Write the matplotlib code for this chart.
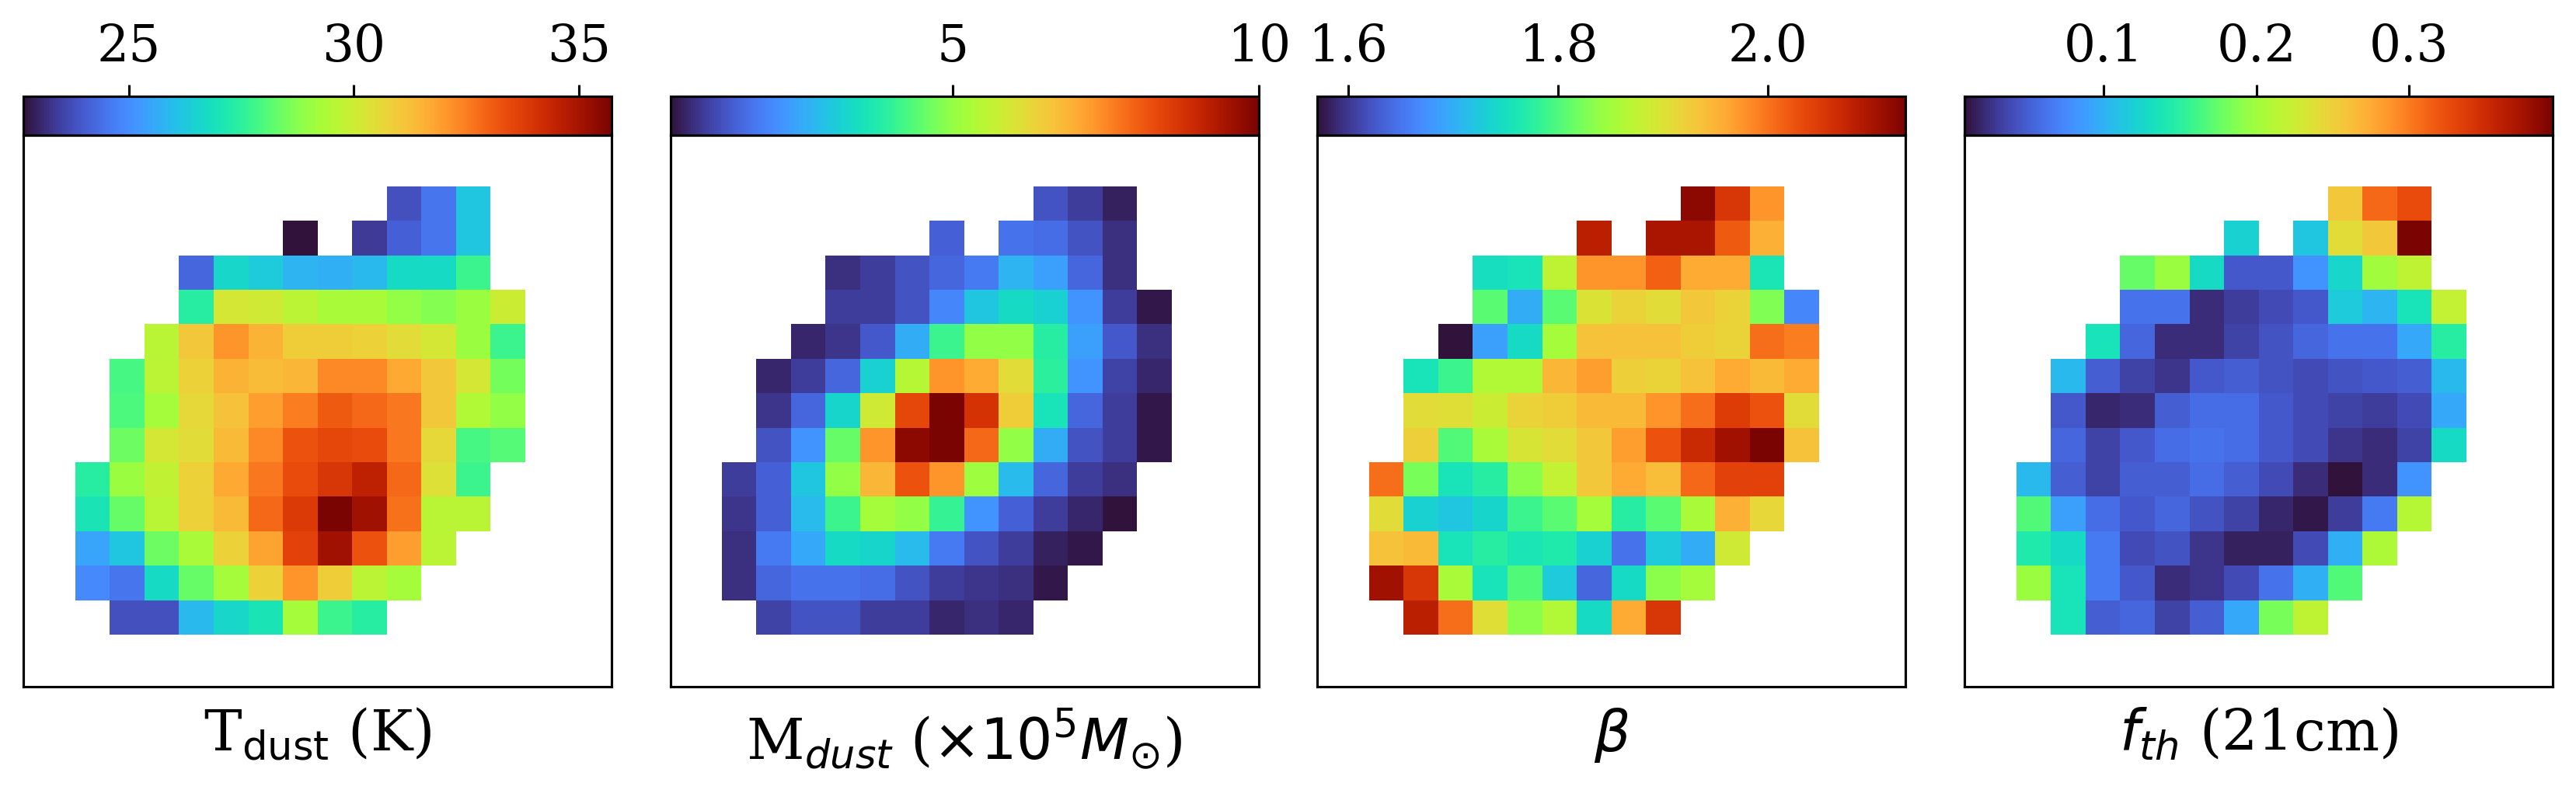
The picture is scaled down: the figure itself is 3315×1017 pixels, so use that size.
"""Dust property maps with colorbars on top."""
import numpy as np
import matplotlib
matplotlib.use('Agg')
import matplotlib.pyplot as plt

n = np.nan

t_dust = [
    [n, n, n, n, n, n, n, n, n, 23.8, 24.5, 26.2, n],
    [n, n, n, n, n, n, 22.65, n, 23.4, 24.1, 24.5, 26.2, n],
    [n, n, n, 24.2, 26.6, 26.3, 25.8, 25.7, 25.9, 26.7, 26.7, 27.75, n],
    [n, n, n, 27.4, 30.2, 30.1, 29.7, 29.3, 29.3, 28.9, 28.7, 29.05, 30.0],
    [n, n, 29.6, 31.0, 32.1, 31.5, 30.9, 30.9, 30.8, 30.5, 30.2, 29.05, 27.75],
    [n, 27.9, 29.7, 30.8, 31.5, 31.3, 31.4, 32.3, 32.3, 31.7, 31.0, 30.2, 28.5],
    [n, 28.0, 29.2, 30.6, 31.15, 31.9, 32.5, 33.1, 32.85, 32.6, 31.0, 29.45, 28.9],
    [n, 28.4, 30.2, 30.5, 31.35, 32.3, 33.25, 33.5, 33.4, 32.6, 30.6, 27.9, 28.1],
    [27.4, 29.05, 29.8, 30.8, 31.7, 32.6, 33.4, 33.9, 34.55, 32.85, 30.4, 27.75, n],
    [27.0, 28.3, 29.6, 30.8, 31.35, 32.85, 33.8, 35.73, 35.1, 32.7, 29.6, 29.6, n],
    [25.5, 26.2, 28.4, 29.3, 30.8, 31.8, 33.6, 35.1, 33.25, 31.9, 29.7, n, n],
    [24.9, 24.5, 26.7, 28.3, 29.2, 30.8, 32.1, 30.9, 29.7, 29.2, n, n, n],
    [n, 23.8, 23.8, 25.9, 26.6, 27.0, 29.2, 27.75, 27.4, n, n, n, n],
]

m_dust = [
    [n, n, n, n, n, n, n, n, n, 1.25, 0.96, 0.57, n],
    [n, n, n, n, n, n, 1.44, n, 1.73, 1.63, 1.25, 0.76, n],
    [n, n, n, 0.76, 0.96, 1.25, 1.53, 1.82, 2.69, 2.40, 1.53, 0.76, n],
    [n, n, n, 0.96, 0.96, 1.25, 2.02, 2.98, 3.36, 3.17, 2.21, 0.96, 0.48],
    [n, n, 0.67, 0.86, 1.34, 2.59, 4.13, 5.0, 5.0, 3.84, 2.40, 1.34, 0.76],
    [n, 0.67, 0.96, 1.53, 3.17, 5.48, 7.31, 7.02, 6.15, 3.94, 2.21, 1.05, 0.67],
    [n, 0.86, 1.53, 3.27, 5.86, 8.36, 10.0, 8.75, 6.44, 3.55, 1.53, 0.96, 0.48],
    [n, 1.25, 2.21, 4.52, 7.31, 9.81, 10.0, 7.88, 5.0, 2.59, 1.25, 0.96, 0.48],
    [0.96, 1.44, 2.98, 5.0, 6.82, 8.17, 7.31, 5.14, 2.79, 1.53, 0.96, 0.76, n],
    [0.86, 1.44, 2.79, 4.13, 5.19, 5.0, 4.04, 2.21, 1.44, 0.96, 0.67, 0.38, n],
    [0.76, 1.82, 2.50, 3.36, 3.27, 2.79, 1.82, 1.25, 0.96, 0.57, 0.48, n, n],
    [0.76, 1.53, 1.73, 1.73, 1.63, 1.25, 0.96, 0.86, 0.76, 0.48, n, n, n],
    [n, 1.05, 1.25, 1.25, 0.96, 0.96, 0.67, 0.76, 0.67, n, n, n, n],
]

beta = [
    [n, n, n, n, n, n, n, n, n, 2.120, 2.053, 1.974, n],
    [n, n, n, n, n, n, 2.081, n, 2.097, 2.097, 2.019, 1.952, n],
    [n, n, n, 1.750, 1.756, 1.873, 1.974, 1.974, 2.013, 1.957, 1.957, 1.761, n],
    [n, n, n, 1.806, 1.700, 1.806, 1.901, 1.918, 1.907, 1.929, 1.918, 1.829, 1.666],
    [n, n, 1.571, 1.689, 1.745, 1.851, 1.935, 1.935, 1.935, 1.924, 1.918, 2.002, 1.991],
    [n, 1.756, 1.789, 1.862, 1.862, 1.946, 1.969, 1.921, 1.918, 1.935, 1.957, 1.943, 1.957],
    [n, 1.907, 1.904, 1.885, 1.918, 1.924, 1.943, 1.943, 1.974, 2.002, 2.047, 2.025, 1.907],
    [n, 1.921, 1.801, 1.857, 1.896, 1.907, 1.929, 1.969, 2.025, 2.069, 2.103, 2.131, 1.935],
    [2.002, 1.823, 1.756, 1.773, 1.834, 1.879, 1.929, 1.957, 1.940, 2.008, 2.041, 2.041, n],
    [1.907, 1.733, 1.722, 1.739, 1.789, 1.806, 1.851, 1.773, 1.806, 1.857, 1.952, 1.913, n],
    [1.935, 1.943, 1.756, 1.773, 1.761, 1.767, 1.733, 1.649, 1.728, 1.700, 1.890, n, n],
    [2.103, 2.053, 1.857, 1.756, 1.801, 1.728, 1.638, 1.745, 1.834, 1.851, n, n, n],
    [n, 2.081, 2.002, 1.904, 1.834, 1.862, 1.745, 1.957, 2.053, n, n, n, n],
]

f_th = [
    [n, n, n, n, n, n, n, n, n, 0.255, 0.309, 0.325, n],
    [n, n, n, n, n, n, 0.121, n, 0.113, 0.240, 0.255, 0.394, n],
    [n, n, n, 0.175, 0.198, 0.128, 0.048, 0.048, 0.082, 0.125, 0.200, 0.217, n],
    [n, n, n, 0.063, 0.063, 0.024, 0.032, 0.040, 0.048, 0.117, 0.101, 0.136, 0.221],
    [n, n, 0.136, 0.055, 0.024, 0.024, 0.036, 0.044, 0.055, 0.063, 0.063, 0.094, 0.148],
    [n, 0.105, 0.051, 0.036, 0.028, 0.048, 0.051, 0.044, 0.040, 0.044, 0.048, 0.051, 0.105],
    [n, 0.048, 0.021, 0.024, 0.051, 0.059, 0.059, 0.048, 0.040, 0.036, 0.032, 0.040, 0.094],
    [n, 0.055, 0.036, 0.048, 0.059, 0.063, 0.059, 0.048, 0.040, 0.028, 0.024, 0.036, 0.128],
    [0.105, 0.051, 0.036, 0.051, 0.051, 0.059, 0.051, 0.040, 0.024, 0.009, 0.024, 0.082, n],
    [0.167, 0.090, 0.059, 0.048, 0.055, 0.044, 0.036, 0.021, 0.013, 0.032, 0.067, 0.213, n],
    [0.144, 0.128, 0.067, 0.040, 0.044, 0.028, 0.017, 0.017, 0.040, 0.098, 0.209, n, n],
    [0.198, 0.136, 0.067, 0.048, 0.024, 0.028, 0.040, 0.063, 0.098, 0.167, n, n, n],
    [n, 0.136, 0.051, 0.055, 0.036, 0.051, 0.094, 0.182, 0.217, n, n, n, n],
]

maps = [t_dust, m_dust, beta, f_th]
labels = ['T$_{\\rm dust}$ (K)', 'M$_{dust}$ ($\\times 10^5 M_{\\odot}$)',
          '$\\beta$', '$f_{th}$ (21cm)']
cbar_ticks = [[25, 30, 35], [5, 10], [1.6, 1.8, 2.0], [0.1, 0.2, 0.3]]
cbar_labels = [['25', '30', '35'], ['5', '10'], ['1.6', '1.8', '2.0'], ['0.1', '0.2', '0.3']]

W, H = 3315, 1017
plt.rcParams['font.family'] = 'DejaVu Serif'
fig = plt.figure(figsize=(W / 150, H / 150), dpi=150)

for i in range(4):
    left = 30 + i * 832.7
    ax = fig.add_axes([left / W, 1 - 884 / H, 757 / W, 710 / H])
    cax = fig.add_axes([left / W, 1 - 173.5 / H, 757 / W, 49.5 / H])

    im = ax.imshow(np.array(maps[i]), cmap='turbo', aspect='auto', interpolation='nearest')
    ax.set_xlim(-2, 15)
    ax.set_ylim(14, -2)
    ax.set_xticks([])
    ax.set_yticks([])
    for sp in ax.spines.values():
        sp.set_linewidth(1.5)
    ax.set_xlabel(labels[i], fontsize=35, labelpad=12)

    cb = fig.colorbar(im, cax=cax, orientation='horizontal', ticklocation='top')
    cb.set_ticks(cbar_ticks[i])
    cb.set_ticklabels(cbar_labels[i])
    cb.ax.tick_params(labelsize=31, length=7, width=1.5, pad=8)
    cb.outline.set_linewidth(1.5)

fig.savefig('out.png', dpi=150)
